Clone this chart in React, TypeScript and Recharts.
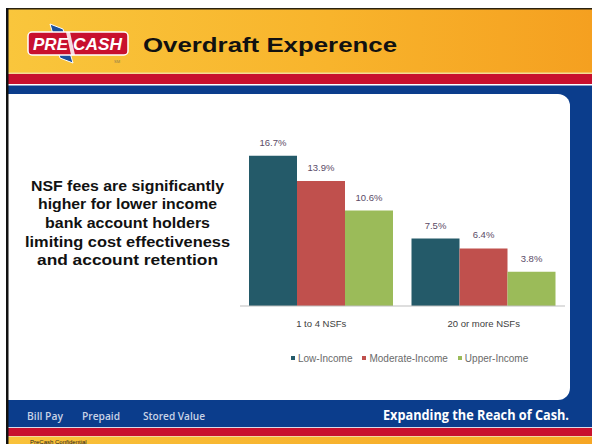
import React from "react";
import { BarChart, Bar, XAxis, YAxis, Legend, LabelList } from "recharts";

const categories = ["1 to 4 NSFs", "20 or more NSFs"];
const lowIncome = [16.7, 7.5];
const moderateIncome = [13.9, 6.4];
const upperIncome = [10.6, 3.8];

const seriesNames = ["Low-Income", "Moderate-Income", "Upper-Income"];
const seriesKeys = ["low", "moderate", "upper"];
const seriesColors = ["#245a69", "#c0504d", "#9bbb59"];

const noteLines = [
  "NSF fees are significantly",
  "higher for lower income",
  "bank account holders",
  "limiting cost effectiveness",
  "and account retention",
];
const noteWidths = [193, 179, 165, 205, 181];

const footerLinks = ["Bill Pay", "Prepaid", "Stored Value"];

const data = categories.map((name, i) => ({
  name,
  low: lowIncome[i],
  moderate: moderateIncome[i],
  upper: upperIncome[i],
}));

const chartFont = "'Liberation Sans', Arial, sans-serif";

const Frame = () => (
  <svg width={592} height={444} style={{ position: "absolute", left: 0, top: 0 }}>
    <defs>
      <linearGradient id="hdr" x1="0" y1="0" x2="1" y2="0">
        <stop offset="0%" stopColor="#f9c63c" />
        <stop offset="55%" stopColor="#f8b42c" />
        <stop offset="100%" stopColor="#f5a020" />
      </linearGradient>
      <linearGradient id="ftr" x1="0" y1="0" x2="1" y2="0">
        <stop offset="0%" stopColor="#f9c23a" />
        <stop offset="100%" stopColor="#f6a624" />
      </linearGradient>
    </defs>
    <rect x={0} y={0} width={592} height={444} fill="#ffffff" />
    {/* header */}
    <rect x={8} y={9} width={584} height={64} fill="url(#hdr)" />
    <rect x={8} y={72.5} width={584} height={1.5} fill="#f4dc96" />
    <rect x={8} y={74} width={584} height={10} fill="#c8102e" />
    <rect x={8} y={85.5} width={584} height={342} fill="#0b3d8c" />
    <path d="M8,94 H558 A12,12 0 0 1 570,106 V388 A12,12 0 0 1 558,400 H8 Z" fill="#ffffff" />
    {/* logo */}
    <polygon points="50,24 63,29 73,63 60,58" fill="#1b4f9c" stroke="#ffffff" strokeWidth={1} />
    <rect x={28} y={32} width={100} height={23} rx={4} fill="#c8102e" stroke="#ffffff" strokeWidth={1.5} />
    <polygon points="66,32 70,32 75,55 71,55" fill="#ffffff" opacity={0.85} />
    <text x={33} y={50} fill="#ffffff" fontSize={17} fontWeight="bold" fontStyle="italic"
      fontFamily="'Liberation Sans', Arial, sans-serif" textLength={35} lengthAdjust="spacingAndGlyphs">PRE</text>
    <text x={73} y={50} fill="#ffffff" fontSize={17} fontWeight="bold" fontStyle="italic"
      fontFamily="'Liberation Sans', Arial, sans-serif" textLength={49} lengthAdjust="spacingAndGlyphs">CASH</text>
    <text x={114} y={63} fill="#8a7a50" fontSize={4} fontFamily="Arial, sans-serif">SM</text>
    <text x={143} y={51.7} fill="#111111" fontSize={21} fontWeight="bold"
      fontFamily="'Liberation Sans', Arial, sans-serif" textLength={254} lengthAdjust="spacingAndGlyphs">
      Overdraft Experence
    </text>
    {/* left note */}
    {noteLines.map((line, i) => (
      <text key={line} x={127.5} y={190.7 + i * 18.6} textAnchor="middle" fill="#111111" fontSize={15}
        fontWeight="bold" fontFamily="'Liberation Sans', Arial, sans-serif"
        textLength={noteWidths[i]} lengthAdjust="spacingAndGlyphs">
        {line}
      </text>
    ))}
    {/* footer */}
    <rect x={8} y={427} width={584} height={1} fill="#d9dce8" />
    <rect x={8} y={428} width={584} height={8} fill="#c8102e" />
    <rect x={8} y={436} width={584} height={1} fill="#f1d9a0" />
    <rect x={8} y={437} width={584} height={7} fill="url(#ftr)" />
    {footerLinks.map((t, i) => (
      <text key={t} x={[27, 82, 143][i]} y={420} fill="#c9d3e6" fontSize={10.5} fontWeight={600}
        fontFamily="'Open Sans', sans-serif" textLength={[36, 38, 62][i]} lengthAdjust="spacingAndGlyphs">
        {t}
      </text>
    ))}
    <text x={383} y={420} fill="#ffffff" fontSize={13.5} fontWeight="bold"
      fontFamily="'Open Sans', sans-serif" textLength={186} lengthAdjust="spacingAndGlyphs">
      Expanding the Reach of Cash.
    </text>
    <text x={30} y={444} fill="#222222" fontSize={6} fontFamily="Arial, sans-serif">PreCash Confidential</text>
    {/* frame lines */}
    <rect x={6} y={8} width={586} height={1.5} fill="#2a2210" />
    <rect x={6} y={8} width={2.5} height={436} fill="#111111" />
  </svg>
);

const LegendContent = () => (
  <div style={{ display: "flex", height: 14, alignItems: "center", fontFamily: chartFont, fontSize: 10, color: "#6a6a6a" }}>
    {seriesNames.map((n, i) => (
      <div key={n} style={{ display: "flex", alignItems: "center", marginRight: 10 }}>
        <span style={{ display: "inline-block", width: 4, height: 4, background: seriesColors[i], marginRight: 3 }} />
        <span>{n}</span>
      </div>
    ))}
  </div>
);

export default function App() {
  return (
    <div style={{ position: "absolute", left: 0, top: 0, width: 592, height: 444, overflow: "hidden" }}>
      <Frame />
      <div style={{ position: "absolute", left: 0, top: 0 }}>
        <BarChart
          width={592}
          height={444}
          data={data}
          margin={{ top: 126, right: 27, left: 240, bottom: 79 }}
          barGap={0}
          barCategoryGap={9}
        >
          <XAxis
            dataKey="name"
            height={45}
            tickLine={false}
            tickMargin={8}
            axisLine={{ stroke: "#bdbdbd" }}
            tick={{ fill: "#404040", fontSize: 9.5, fontFamily: chartFont }}
          />
          <YAxis hide domain={[0, 20]} />
          <Legend
            verticalAlign="bottom"
            wrapperStyle={{ left: 291, width: 280 }}
            content={() => <LegendContent />}
          />
          {seriesKeys.map((k, i) => (
            <Bar key={k} dataKey={k} name={seriesNames[i]} fill={seriesColors[i]} isAnimationActive={false}>
              <LabelList
                dataKey={k}
                position="top"
                offset={10}
                formatter={(v: number) => `${v.toFixed(1)}%`}
                style={{ fill: "#5a4b66", fontSize: 9.5, fontFamily: chartFont }}
              />
            </Bar>
          ))}
        </BarChart>
      </div>
    </div>
  );
}
